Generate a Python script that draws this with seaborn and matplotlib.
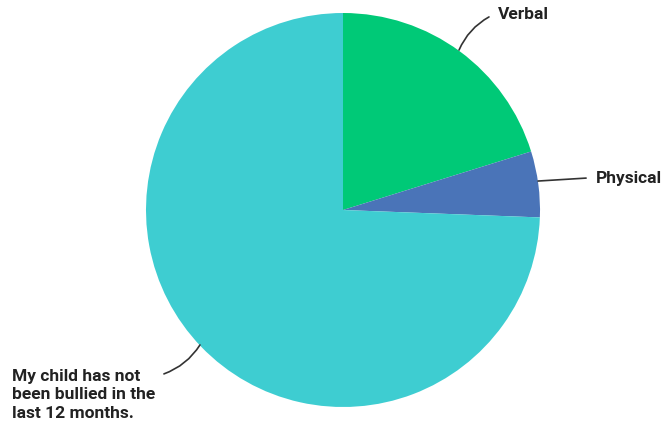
import matplotlib
matplotlib.use("Agg")
import matplotlib.pyplot as plt
import seaborn as sns

# bullying type shares (%)
labels = ["Verbal", "Physical", "My child has not\nbeen bullied in the\nlast 12 months."]
shares = [20.2, 5.4, 74.4]
colors = ["#00C977", "#4A74B8", "#3ECDD1"]

sns.set_theme(style="white")
plt.rcParams['font.family'] = ['Roboto', 'DejaVu Sans']

fig = plt.figure(figsize=(6.64, 4.30), dpi=100)
ax = fig.add_axes([146/664, 23/430, 394/664, 394/430])

ax.pie(shares, colors=colors, startangle=90, counterclock=False,
       radius=1, wedgeprops=dict(linewidth=0))
ax.set_xlim(-1, 1)
ax.set_ylim(-1, 1)
ax.set_aspect('equal')
ax.axis('off')

# leader lines + labels (pie edge -> label)
ann = [
    ((0.589, 0.812), (0.741, 0.980), (0.785, 0.990), "arc3,rad=0.17"),
    ((0.990, 0.147), (1.234, 0.162), (1.284, 0.162), "arc3,rad=0.0"),
    ((-0.726, -0.685), (-0.909, -0.832), (-1.680, -0.939), "arc3,rad=0.17"),
]
for lab, (p0, p1, pt, cs) in zip(labels, ann):
    ax.annotate("", xy=p0, xytext=p1, annotation_clip=False,
                arrowprops=dict(arrowstyle="-", color="#333333", lw=1.2,
                                connectionstyle=cs, shrinkA=0, shrinkB=0))
    ax.text(pt[0], pt[1], lab, ha="left", va="center", fontsize=12.5,
            fontweight="bold", color="#222222", linespacing=1.3)

fig.savefig("out.png", dpi=100)
